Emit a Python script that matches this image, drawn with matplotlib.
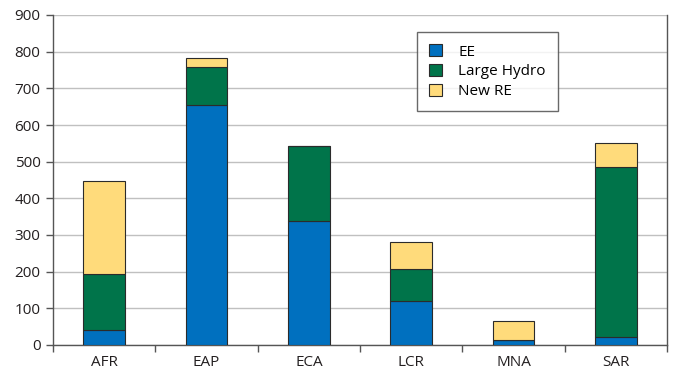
import numpy as np
import matplotlib.pyplot as plt

plt.rcParams['font.family'] = ['Open Sans', 'DejaVu Sans']

regions = ['AFR', 'EAP', 'ECA', 'LCR', 'MNA', 'SAR']
ee = [42, 654, 338, 121, 14, 21]
large_hydro = [152, 104, 204, 85, 0, 465]
new_re = [252, 26, 0, 75, 51, 64]

colors = ['#0070bf', '#00744a', '#ffdb7b']
labels = ['EE', 'Large Hydro', 'New RE']

fig = plt.figure(figsize=(6.74, 3.77), dpi=100)
ax = fig.add_axes([53 / 674, 32 / 377, 614 / 674, 330 / 377])

x = np.arange(len(regions))
bottom = np.zeros(len(regions))
for vals, c, lab in zip([ee, large_hydro, new_re], colors, labels):
    ax.bar(x, vals, width=0.41, bottom=bottom, color=c, edgecolor='#2b2b2b',
           linewidth=0.8, label=lab, zorder=3)
    bottom += np.array(vals)

ax.set_xlim(-0.5, len(regions) - 0.5)
ax.set_ylim(0, 900)
ax.set_yticks(np.arange(0, 901, 100))
ax.set_xticks(x)
ax.set_xticklabels(regions)
ax.set_xticks(np.arange(-0.5, len(regions)), minor=True)
ax.tick_params(axis='x', which='major', length=0, pad=7, labelsize=11, colors='#231f20')
ax.tick_params(axis='x', which='minor', length=5, width=1, color='#555555')
ax.tick_params(axis='y', length=5, width=1, color='#555555', labelsize=11,
               labelcolor='#231f20', pad=4)

ax.grid(axis='y', color='#c0c0c0', linewidth=1, zorder=0)
ax.spines['top'].set_visible(False)
for s in ['left', 'bottom', 'right']:
    ax.spines[s].set_color('#555555')
    ax.spines[s].set_linewidth(1)

leg = ax.legend(loc='upper left', bbox_to_anchor=(0.593, 0.948), fontsize=11,
                frameon=True, fancybox=False, edgecolor='#444444',
                handlelength=0.8, handleheight=0.8, handletextpad=1.1,
                borderpad=0.8, labelspacing=0.3, borderaxespad=0)
leg.get_frame().set_linewidth(1)
leg.set_zorder(5)

fig.savefig('out.png', dpi=100)
